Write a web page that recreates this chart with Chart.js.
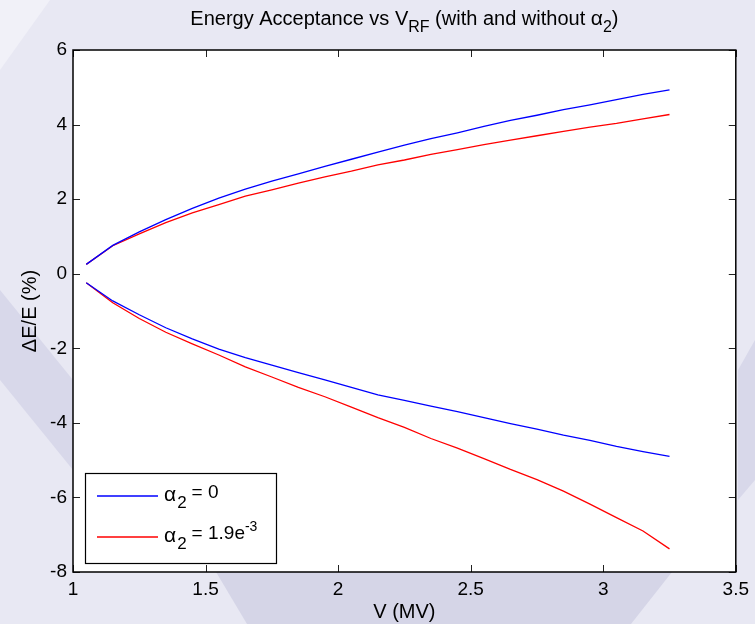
<!DOCTYPE html>
<html>
<head>
<meta charset="utf-8">
<script src="https://cdn.jsdelivr.net/npm/chart.js@4"></script>
<style>
  html, body { margin: 0; padding: 0; }
  body { width: 755px; height: 624px; background: #e8e8f3; position: relative; overflow: hidden; }
  .bg { position: absolute; inset: 0; }
  .bg1 { background: #f1f1f8; clip-path: polygon(0 0, 50px 0, 0 70px); }
  .bg2 { background: #d5d5e7; clip-path: polygon(216px 572px, 672px 572px, 631px 624px, 247px 624px); }
  .bg3 { background: #d8d8ea; clip-path: polygon(0 290px, 73px 380px, 73px 470px, 0 380px); }
  .bg4 { background: #d8d8ea; clip-path: polygon(755px 340px, 755px 480px, 738px 500px, 738px 370px); }
  #wrap { position: absolute; left: 0; top: 0; width: 755px; height: 624px; }
</style>
</head>
<body>
<div class="bg bg1"></div>
<div class="bg bg2"></div>
<div class="bg bg3"></div>
<div class="bg bg4"></div>
<div id="wrap"><canvas class="chart"></canvas></div>
<script>
const ctx = document.querySelector(".chart");

// V_RF in MV
const voltage = [1.05, 1.15, 1.25, 1.35, 1.45, 1.55, 1.65, 1.75, 1.85, 1.95, 2.05, 2.15,
  2.25, 2.35, 2.45, 2.55, 2.65, 2.75, 2.85, 2.95, 3.05, 3.15, 3.25];

// alpha2 = 0
const upperNoAlpha = [0.25, 0.76, 1.12, 1.45, 1.75, 2.03, 2.27, 2.48, 2.68, 2.88, 3.07, 3.26,
  3.45, 3.62, 3.78, 3.95, 4.11, 4.25, 4.40, 4.53, 4.67, 4.81, 4.93];
const lowerNoAlpha = [-0.24, -0.73, -1.10, -1.45, -1.75, -2.02, -2.25, -2.45, -2.65, -2.85, -3.05, -3.25,
  -3.40, -3.55, -3.70, -3.86, -4.02, -4.17, -4.33, -4.47, -4.63, -4.77, -4.90];

// alpha2 = 1.9e-3
const upperAlpha = [0.25, 0.75, 1.07, 1.37, 1.63, 1.85, 2.08, 2.25, 2.43, 2.60, 2.75, 2.92,
  3.05, 3.20, 3.33, 3.46, 3.58, 3.70, 3.82, 3.93, 4.03, 4.15, 4.27];
const lowerAlpha = [-0.24, -0.78, -1.20, -1.57, -1.88, -2.18, -2.50, -2.77, -3.05, -3.30, -3.58, -3.86,
  -4.12, -4.42, -4.68, -4.96, -5.25, -5.52, -5.83, -6.18, -6.54, -6.90, -7.38];

const xTicks = [1, 1.5, 2, 2.5, 3, 3.5];
const yTicks = [-8, -6, -4, -2, 0, 2, 4, 6];

const FONT = "'Liberation Sans', Arial, sans-serif";

function pts(ys) {
  return voltage.map((v, i) => ({ x: v, y: ys[i] }));
}

function line(ys, color) {
  return {
    data: pts(ys),
    borderColor: color,
    borderWidth: 1.3,
    pointRadius: 0,
    tension: 0,
    fill: false,
  };
}

// white axes box, inward ticks on all four sides, legend and title
const axesBox = {
  id: "axesBox",
  beforeDraw(chart) {
    const a = chart.chartArea;
    const c = chart.ctx;
    c.save();
    c.fillStyle = "#fff";
    c.fillRect(a.left, a.top, a.right - a.left, a.bottom - a.top);
    c.restore();
  },
  afterDatasetsDraw(chart) {
    const a = chart.chartArea;
    const c = chart.ctx;
    const xs = chart.scales.x, ys = chart.scales.y;
    c.save();
    c.strokeStyle = "#222";
    c.lineWidth = 1;
    c.beginPath();
    xTicks.forEach(t => {
      const px = Math.round(xs.getPixelForValue(t)) + 0.5;
      c.moveTo(px, a.bottom); c.lineTo(px, a.bottom - 7);
      c.moveTo(px, a.top); c.lineTo(px, a.top + 7);
    });
    yTicks.forEach(t => {
      const py = Math.round(ys.getPixelForValue(t)) + 0.5;
      c.moveTo(a.left, py); c.lineTo(a.left + 7, py);
      c.moveTo(a.right, py); c.lineTo(a.right - 7, py);
    });
    c.stroke();
    c.strokeStyle = "#000";
    c.lineWidth = 1.5;
    c.strokeRect(a.left, a.top, a.right - a.left, a.bottom - a.top);

    // legend
    const lx = 85, ly = 473, lw = 191, lh = 90;
    c.fillStyle = "#fff";
    c.fillRect(lx, ly, lw, lh);
    c.strokeStyle = "#000";
    c.lineWidth = 1.2;
    c.strokeRect(lx + 0.5, ly + 0.5, lw, lh);
    const rows = [
      { color: "#0000ff", y: 496, value: "= 0", sup: "" },
      { color: "#ff0000", y: 537, value: "= 1.9e", sup: "-3" },
    ];
    rows.forEach(r => {
      c.strokeStyle = r.color;
      c.lineWidth = 1.3;
      c.beginPath();
      c.moveTo(97, r.y); c.lineTo(158, r.y);
      c.stroke();
      c.fillStyle = "#000";
      c.textBaseline = "alphabetic";
      c.textAlign = "left";
      c.font = "21px " + FONT;
      let x = 164;
      c.fillText("\u03b1", x, r.y + 5);
      x += c.measureText("\u03b1").width + 1;
      c.font = "17px " + FONT;
      c.fillText("2", x, r.y + 12);
      x += c.measureText("2").width + 5;
      c.font = "19px " + FONT;
      c.fillText(r.value, x, r.y + 2);
      x += c.measureText(r.value).width;
      if (r.sup) {
        c.font = "14px " + FONT;
        c.fillText(r.sup, x, r.y - 6);
      }
    });

    // title with subscripts
    const parts = [
      { t: "Energy Acceptance vs V", f: 20, dy: 0 },
      { t: "RF", f: 16, dy: 7 },
      { t: " (with and without ", f: 20, dy: 0 },
      { t: "\u03b1", f: 21, dy: 0 },
      { t: "2", f: 16, dy: 7 },
      { t: ")", f: 20, dy: 0 },
    ];
    let total = 0;
    parts.forEach(p => { c.font = p.f + "px " + FONT; total += c.measureText(p.t).width; });
    let tx = (a.left + a.right) / 2 - total / 2;
    c.fillStyle = "#000";
    parts.forEach(p => {
      c.font = p.f + "px " + FONT;
      c.fillText(p.t, tx, 25 + p.dy);
      tx += c.measureText(p.t).width;
    });
    c.restore();
  },
};

new Chart(ctx, {
  type: "line",
  data: {
    datasets: [
      line(upperNoAlpha, "#0000ff"),
      line(lowerNoAlpha, "#0000ff"),
      line(upperAlpha, "#ff0000"),
      line(lowerAlpha, "#ff0000"),
    ],
  },
  options: {
    responsive: true,
    maintainAspectRatio: false,
    animation: false,
    layout: { padding: { top: 50, right: 18, left: 0, bottom: 0 } },
    scales: {
      x: {
        type: "linear",
        min: 1,
        max: 3.5,
        afterFit(scale) { scale.height = 52; },
        afterBuildTicks(scale) { scale.ticks = xTicks.map(v => ({ value: v })); },
        grid: { display: false, drawTicks: false },
        border: { display: false },
        ticks: { color: "#000", font: { family: FONT, size: 19 }, padding: 6, maxRotation: 0, callback: v => String(v) },
        title: { display: true, text: "V (MV)", color: "#000", font: { family: FONT, size: 20 }, padding: { top: 0, bottom: 0 } },
      },
      y: {
        min: -8,
        max: 6,
        afterFit(scale) { scale.width = 73; },
        afterBuildTicks(scale) { scale.ticks = yTicks.map(v => ({ value: v })); },
        grid: { display: false, drawTicks: false },
        border: { display: false },
        ticks: { color: "#000", font: { family: FONT, size: 19 }, padding: 6, callback: v => String(v) },
        title: { display: true, text: "\u0394E/E (%)", color: "#000", font: { family: FONT, size: 20 }, padding: { top: 18, bottom: 0 } },
      },
    },
    plugins: {
      legend: { display: false },
      tooltip: { enabled: false },
    },
  },
  plugins: [axesBox],
});
</script>
</body>
</html>
